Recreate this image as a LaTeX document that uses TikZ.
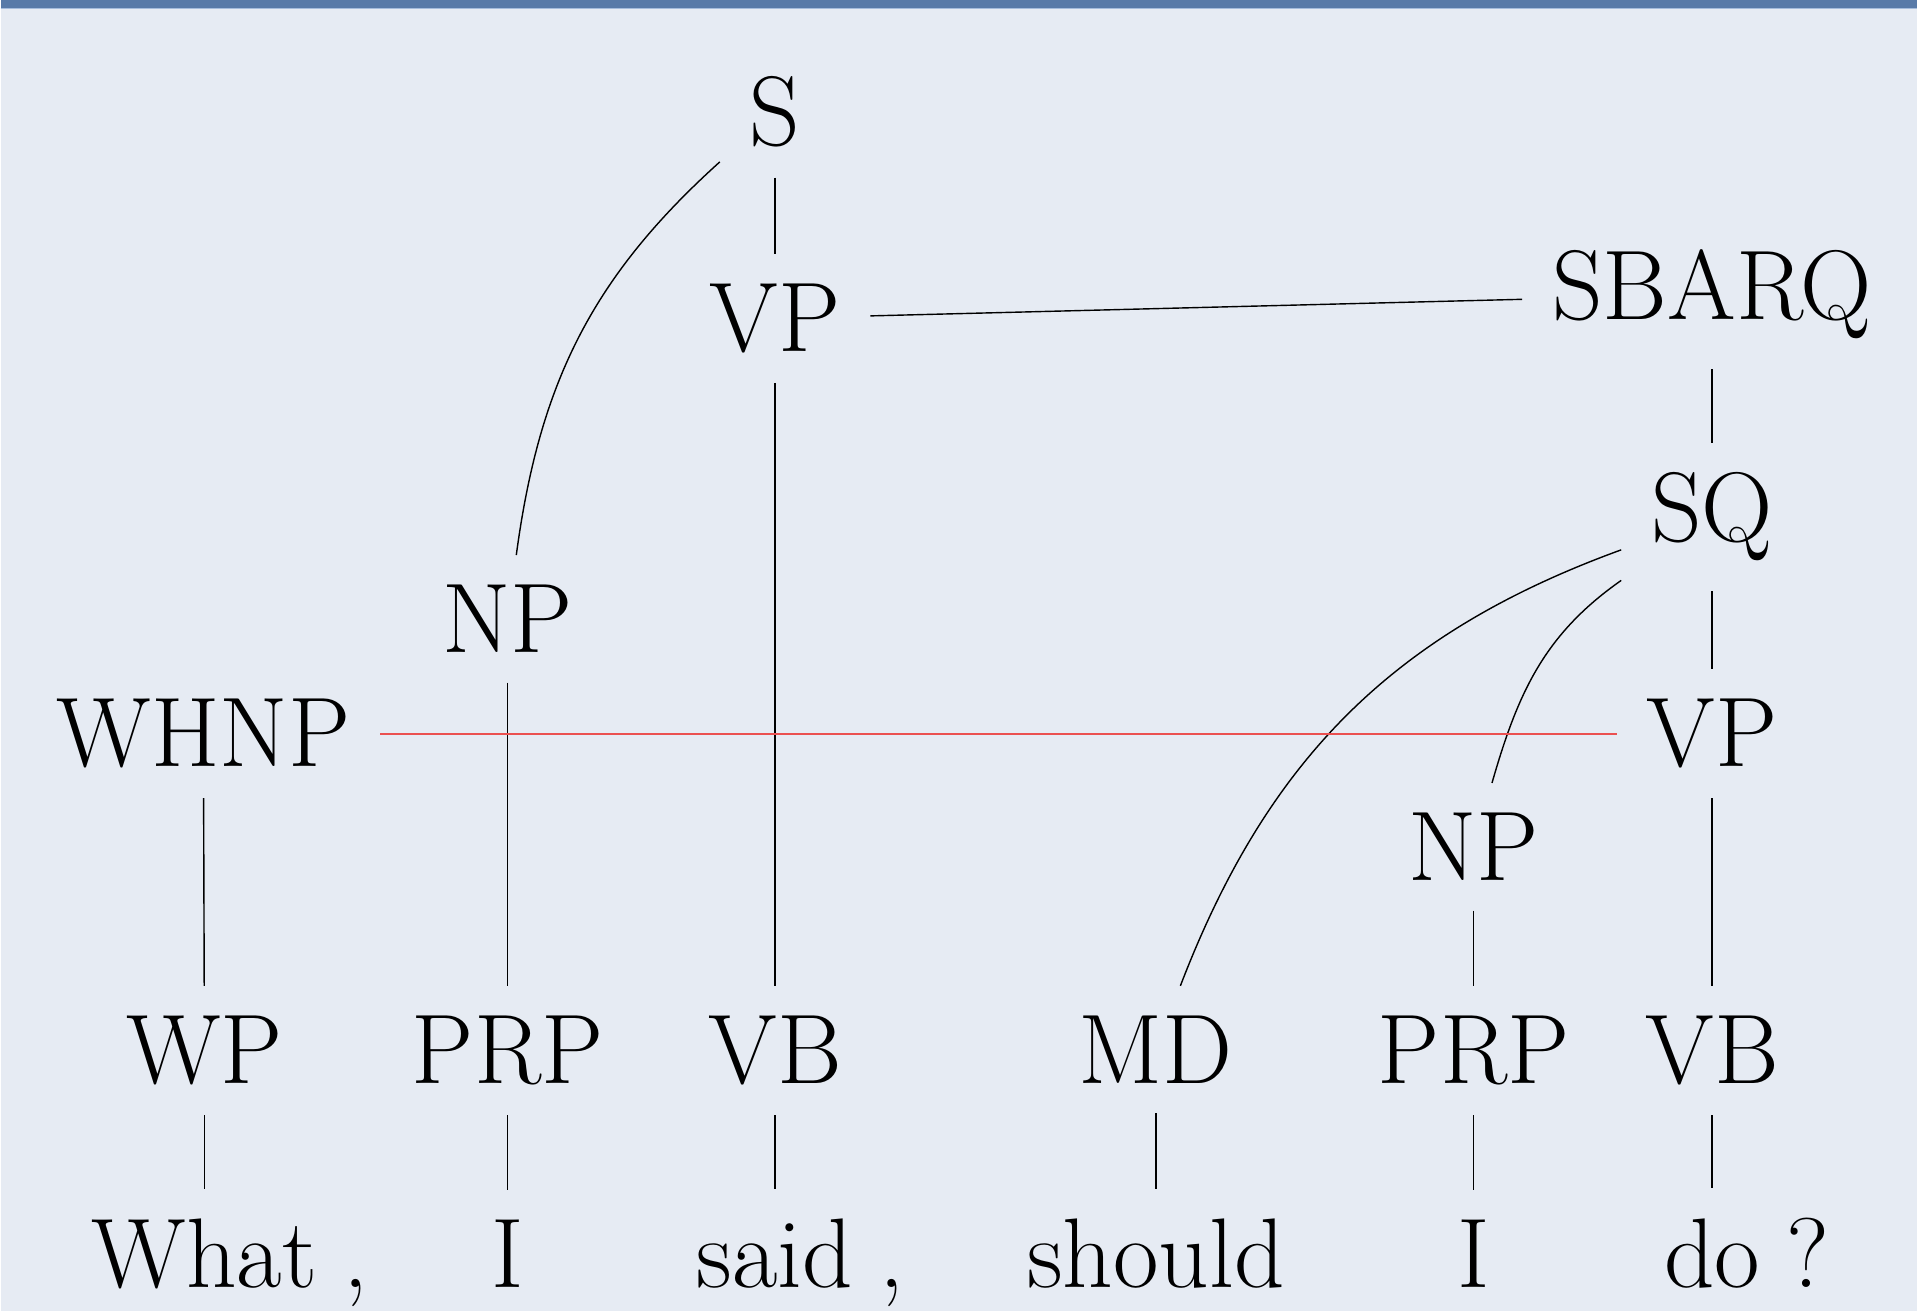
\documentclass[tikz,border=0pt]{standalone}
\definecolor{bg}{RGB}{230,235,243}
\definecolor{bar}{RGB}{88,122,168}
\definecolor{barline}{RGB}{165,188,220}
\definecolor{redline}{RGB}{235,80,80}
\newcommand\punct[1]{\rlap{\hspace{0.27em}#1}}
\tikzset{
  lab/.style={font=\fontsize{28.15}{33}\selectfont, inner sep=0.3cm, outer sep=0pt, anchor=base},
  edge/.style={draw=black, line width=0.4pt},
  cross/.style={draw=redline, line width=0.55pt}
}
\begin{document}
\begin{tikzpicture}[x=0.01cm,y=-0.01cm]
\fill[bg] (0,0) rectangle (1918,1312);
\fill[bar] (0,0) rectangle (1918,8);
\draw[barline, line width=0.3pt] (0,8.6) -- (1918,8.6);
\useasboundingbox (0,0) rectangle (1918,1312);

% phrase nodes
\node[lab] (S)     at (775,146)    {S};
\node[lab] (VPa)   at (775,351.5)  {VP};
\node[lab] (SBARQ) at (1712.5,320) {SBARQ};
\node[lab] (SQ)    at (1712.5,542) {SQ};
\node[lab] (NPa)   at (507.5,653)  {NP};
\node[lab] (WHNP)  at (203,767)    {WHNP};
\node[lab] (VPb)   at (1712.5,767) {VP};
\node[lab] (NPb)   at (1474,881)   {NP};

% POS nodes
\node[lab] (WP)    at (204,1084)    {WP};
\node[lab] (PRPa)  at (507.5,1084)  {PRP};
\node[lab] (VBa)   at (775,1084)    {VB};
\node[lab] (MD)    at (1156,1084)   {MD};
\node[lab] (PRPb)  at (1474,1084)   {PRP};
\node[lab] (VBb)   at (1712.5,1084) {VB};

% words
\node[lab] (w1) at (204,1288)    {What\punct{,}};
\node[lab] (w2) at (507.5,1288)  {I};
\node[lab] (w3) at (775,1288)    {said\punct{,}};
\node[lab] (w4) at (1156,1288)   {should};
\node[lab] (w5) at (1474,1288)   {I};
\node[lab] (w6) at (1712.5,1288) {do\punct{?}};

% edges
\draw[edge] (S) -- (VPa);
\draw[edge] (S) to[out=222,in=82.5] (NPa);
\draw[edge] (VPa) -- (SBARQ);
\draw[edge] (VPa) -- (VBa);
\draw[edge] (SBARQ) -- (SQ);
\draw[edge] (SQ) -- (VPb);
\draw[edge] (SQ) to[out=200,in=69] (MD);
\draw[edge] (SQ) to[out=215,in=74] (NPb);
\draw[edge] (VPb) -- (VBb);
\draw[edge] (NPb) -- (PRPb);
\draw[edge] (NPa) -- (PRPa);
\draw[edge] (WHNP) -- (WP);

\draw[edge] (WP) -- (w1);
\draw[edge] (PRPa) -- (w2);
\draw[edge] (VBa) -- (w3);
\draw[edge] (MD) -- (w4);
\draw[edge] (PRPb) -- (w5);
\draw[edge] (VBb) -- (w6);

\draw[cross] (WHNP) -- (VPb);
\end{tikzpicture}
\end{document}
